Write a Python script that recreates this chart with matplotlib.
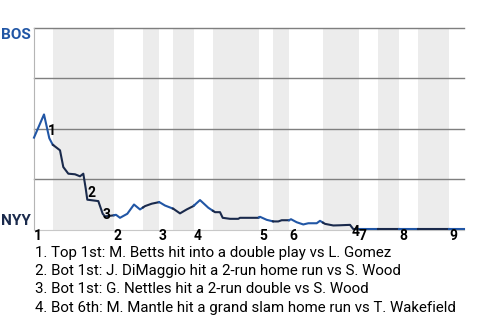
import numpy as np
import matplotlib
matplotlib.use('Agg')
import matplotlib.pyplot as plt

plt.rcParams['font.family'] = ['Roboto', 'DejaVu Sans']

# -----------------数据
# 半局分界（按打席序号）
half_bounds = [0, 3.8, 16.0, 21.8, 25.0, 27.8, 32.0, 35.8, 45.0, 47.8,
               51.0, 57.8, 65.0, 68.8, 73.0, 76.8, 83.0, 86.0]
innings = ['1', '2', '3', '4', '5', '6', '7', '8', '9']

# BOS 胜率曲线
pa = [0, 2.0, 3.06, 3.74, 5.2, 5.86, 6.86, 8.2, 9.2, 9.86, 10.34, 10.66,
      12.86, 13.74, 14.2, 15.86, 16.4, 17.2, 18.66, 20.0, 21.2, 22.2, 23.54,
      25.06, 26.2, 27.86, 29.2, 30.54, 31.86, 33.2, 34.86, 36.2, 37.2, 37.74,
      39.2, 40.86, 41.2, 44.86, 45.2, 46.54, 47.86, 48.86, 49.54, 51.0, 51.4,
      52.54, 53.86, 54.86, 56.54, 57.2, 58.2, 59.86, 61.2, 63.2, 63.86, 86.0]
wp = [0.456, 0.571, 0.453, 0.421, 0.393, 0.31, 0.277, 0.274, 0.264, 0.277,
      0.204, 0.148, 0.141, 0.078, 0.065, 0.07, 0.073, 0.058, 0.078, 0.124,
      0.0995, 0.116, 0.128, 0.136, 0.119, 0.103, 0.08, 0.0995, 0.116, 0.146,
      0.108, 0.086, 0.086, 0.058, 0.053, 0.053, 0.058, 0.058, 0.063, 0.048,
      0.04, 0.04, 0.046, 0.046, 0.051, 0.036, 0.025, 0.031, 0.031, 0.043,
      0.028, 0.02, 0.021, 0.023, 0.002, 0.002]

events = ['1. Top 1st: M. Betts hit into a double play vs L. Gomez',
          '2. Bot 1st: J. DiMaggio hit a 2-run home run vs S. Wood',
          '3. Bot 1st: G. Nettles hit a 2-run double vs S. Wood',
          '4. Bot 6th: M. Mantle hit a grand slam home run vs T. Wakefield']
event_x = [3.54, 11.54, 14.54, 64.4]
event_y = [0.49, 0.18, 0.072, -0.011]

BLUE = '#2156a5'
NAVY = '#1a2a4c'

# -----------------绘图
fig = plt.figure(figsize=(4.8, 3.2), dpi=100, facecolor='white')
ax = fig.add_axes([34 / 480, 1 - 229.5 / 320, 430 / 480, 201.5 / 320])
ax.set_xlim(0, 86)
ax.set_ylim(0, 1)

for i in range(1, len(half_bounds) - 1, 2):  # 下半局底色
    ax.axvspan(half_bounds[i], half_bounds[i + 1], color='#ececec', lw=0, zorder=0)

for g in [0.25, 0.5, 0.75, 1.0]:
    ax.axhline(g, color='#7f7f7f', lw=1.0, zorder=1, clip_on=False)

xs = np.union1d(pa, half_bounds)
ys = np.interp(xs, pa, wp)
for i in range(len(half_bounds) - 1):  # 按半局分色
    m = (xs >= half_bounds[i]) & (xs <= half_bounds[i + 1])
    ax.plot(xs[m], ys[m], color=BLUE if i % 2 == 0 else NAVY, lw=1.5,
            solid_joinstyle='round', zorder=3, clip_on=False)

for s in ['top', 'right']:
    ax.spines[s].set_visible(False)
ax.spines['left'].set_color('#b5b5b5')
ax.spines['bottom'].set_color('#c8c8c8')
ax.set_xticks([])
ax.set_yticks([])

for i, lab in enumerate(innings):
    ax.text(half_bounds[2 * i], -0.052, lab, ha='left', va='baseline',
            fontsize=10, fontweight='bold', color='black')

for i in range(len(events)):
    ax.text(event_x[i], event_y[i], str(i + 1), ha='center', va='center',
            fontsize=10, fontweight='bold', color='black', zorder=4)

ax.text(-0.007, 0.944, 'BOS', transform=ax.transAxes, ha='right', va='baseline',
        fontsize=11, fontweight='bold', color=BLUE)
ax.text(-0.007, 0.022, 'NYY', transform=ax.transAxes, ha='right', va='baseline',
        fontsize=11, fontweight='bold', color=NAVY)

base = [257.3, 275.3, 293.3, 311.7]
for t, b in zip(events, base):
    fig.text(35 / 480, 1 - b / 320, t, ha='left', va='baseline', fontsize=10.85,
             color='black')

fig.savefig('out.png', dpi=100)
